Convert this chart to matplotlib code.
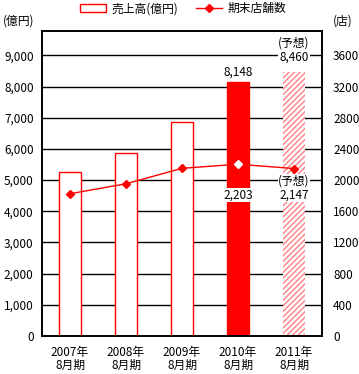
import matplotlib
matplotlib.use("Agg")
import matplotlib.pyplot as plt
from matplotlib.patches import Patch
from matplotlib.lines import Line2D

plt.rcParams['font.family'] = ['Noto Sans CJK JP', 'DejaVu Sans']
plt.rcParams['hatch.linewidth'] = 1.0

categories = ["2007年\n8月期", "2008年\n8月期", "2009年\n8月期", "2010年\n8月期", "2011年\n8月期"]
sales = [5250, 5860, 6870, 8148, 8460]
stores = [1824, 1952, 2150, 2203, 2147]
left_ticks = [0, 1000, 2000, 3000, 4000, 5000, 6000, 7000, 8000, 9000]
right_ticks = [0, 400, 800, 1200, 1600, 2000, 2400, 2800, 3200, 3600]

RED = '#FF0000'
fig = plt.figure(figsize=(3.59, 3.74), dpi=100)
ax = fig.add_axes([0.117, 0.102, 0.780, 0.815])
ax2 = ax.twinx()

x = list(range(len(categories)))
fs = 8.5

# gridlines
for t in left_ticks[1:]:
    ax.axhline(t, color='black', lw=1.0, zorder=0)

for i, v in enumerate(sales):
    if i < 3:
        ax.bar(i, v, width=0.4, facecolor='white', edgecolor=RED, lw=1.0, zorder=2)
    elif i == 3:
        ax.bar(i, v, width=0.4, facecolor=RED, edgecolor=RED, lw=1.0, zorder=2)
    else:
        ax.bar(i, v, width=0.4, facecolor='white', edgecolor='#FF8080', hatch='//////', lw=0, zorder=2)

ax.set_ylim(0, 9780)
ax.set_xlim(-0.5, 4.5)
ax.set_yticks(left_ticks)
ax.set_yticklabels([f"{t:,}" for t in left_ticks], fontsize=fs)
ax.set_xticks(x)
ax.set_xticklabels(categories, fontsize=fs, linespacing=1.0)
ax.tick_params(axis='x', length=0, pad=7)
ax.tick_params(axis='y', length=0, pad=6)
for s in ax.spines.values():
    s.set_linewidth(1.2)

ax2.set_ylim(0, 3912)
ax2.set_yticks(right_ticks)
ax2.set_yticklabels([str(t) for t in right_ticks], fontsize=fs)
ax2.tick_params(axis='y', length=0, pad=8)
ax2.plot(x, stores, color=RED, lw=1.0, marker='D', ms=4, zorder=3)
ax2.plot([3], [stores[3]], linestyle='none', marker='D', ms=4, color='white', zorder=4)
for s in ax2.spines.values():
    s.set_linewidth(1.2)

bbox = dict(facecolor='white', edgecolor='none', pad=0.5)
ax.text(3, sales[3] + 120, f"{sales[3]:,}", ha='center', va='bottom', fontsize=fs)
ax.text(4, sales[4] + 280, f"(予想)\n{sales[4]:,}", ha='center', va='bottom', fontsize=fs,
        linespacing=1.05, bbox=bbox, zorder=5)
ax2.text(3, stores[3] - 310, f"{stores[3]:,}", ha='center', va='top', fontsize=fs, bbox=bbox, zorder=5)
ax2.text(4, stores[4] - 80, f"(予想)\n{stores[4]:,}", ha='center', va='top', fontsize=fs,
         linespacing=1.05, bbox=bbox, zorder=5)

fig.text(0.052, 0.945, "(億円)", ha='center', va='center', fontsize=fs)
fig.text(0.955, 0.945, "(店)", ha='center', va='center', fontsize=fs)

handles = [Patch(facecolor='white', edgecolor=RED, lw=1.0),
           Line2D([0], [0], color=RED, lw=1.0, marker='D', ms=4)]
fig.legend(handles, ["売上高(億円)", "期末店舗数"], loc='center', bbox_to_anchor=(0.51, 0.977),
           ncol=2, frameon=False, fontsize=fs, handlelength=2.2, handleheight=0.6,
           columnspacing=1.5, handletextpad=0.5)

fig.savefig("out.png", dpi=100)
